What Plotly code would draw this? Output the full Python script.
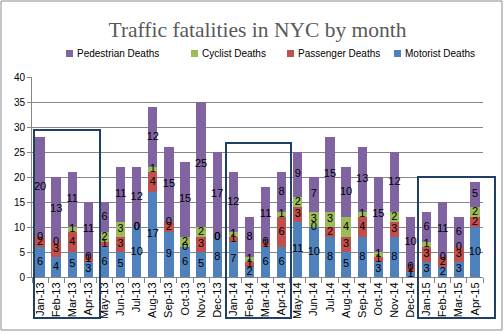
import plotly.graph_objects as go

months = ["Jan-13","Feb-13","Mar-13","Apr-13","May-13","Jun-13","Jul-13","Aug-13","Sep-13","Oct-13","Nov-13","Dec-13",
          "Jan-14","Feb-14","Mar-14","Apr-14","May-14","Jun-14","Jul-14","Aug-14","Sep-14","Oct-14","Nov-14","Dec-14",
          "Jan-15","Feb-15","Mar-15","Apr-15"]
motorist   = [6,4,5,3,6,5,10,17,9,6,5,8, 7,2,6,6,11,10,8,5,8,3,8,1, 3,2,3,10]
passenger  = [2,3,4,1,1,3,0,4,2,0,3,0, 1,1,1,6,3,0,2,3,4,1,3,1, 3,2,3,2]
cyclist    = [0,0,1,0,2,3,0,1,0,2,2,0, 1,1,0,1,2,3,3,4,1,1,2,0, 1,0,0,2]
pedestrian = [20,13,11,11,6,11,12,12,15,15,25,17, 12,8,11,8,9,7,15,10,13,15,12,10, 6,11,6,5]

series = [("Motorist Deaths", motorist, "#4F81BD"),
          ("Passenger Deaths", passenger, "#C0504D"),
          ("Cyclist Deaths", cyclist, "#9BBB59"),
          ("Pedestrian Deaths", pedestrian, "#8064A2")]

fig = go.Figure()
base = [0]*len(months)
label_x, label_y, label_t = [], [], []
for name, vals, col in series:
    fig.add_trace(go.Bar(x=months, y=vals, name=name, marker=dict(color=col, line=dict(width=0)), showlegend=False))
    for i, v in enumerate(vals):
        label_x.append(months[i]); label_y.append(base[i] + v/2); label_t.append(str(v))
    base = [b + v for b, v in zip(base, vals)]

fig.add_trace(go.Scatter(x=label_x, y=label_y, text=label_t, mode="text", showlegend=False,
                         textfont=dict(family="Liberation Sans", size=11, color="#000000"),
                         hoverinfo="skip", cliponaxis=False))

# Plot area in pixels: x 32..483, y 77..277
L, R, T, B = 32, 483, 77, 277
W, H = R - L, B - T
def px(x): return (x - L) / W
def py(y): return (B - y) / H

shapes = [dict(type="rect", xref="paper", yref="paper", x0=px(1), x1=px(502), y0=py(330), y1=py(1),
               line=dict(color="#8C8C8C", width=1), layer="below")]
for (x0, x1, y0) in [(34, 100, 130), (226, 291, 143), (418, 495, 177)]:
    shapes.append(dict(type="rect", xref="paper", yref="paper", x0=px(x0), x1=px(x1), y0=py(318), y1=py(y0),
                       line=dict(color="#1F3F66", width=2)))

# manual legend (Excel order: reversed stack order)
annotations = []
legend_x = [66, 191, 287, 394]
for (name, vals, col), lx in zip(series[::-1], legend_x):
    shapes.append(dict(type="rect", xref="paper", yref="paper", x0=px(lx), x1=px(lx + 7),
                       y0=py(57), y1=py(50), fillcolor=col, line=dict(width=0)))
    annotations.append(dict(text=name, xref="paper", yref="paper", x=px(lx + 9), y=py(53.5),
                            xanchor="left", yanchor="middle", showarrow=False,
                            font=dict(family="Liberation Sans", size=10, color="#000000")))

fig.update_layout(
    width=504, height=334,
    margin=dict(l=L, r=504 - R, t=T, b=334 - B),
    paper_bgcolor="white", plot_bgcolor="white",
    barmode="stack", bargap=0.42,
    title=dict(text="Traffic fatalities in NYC by month", x=0.5, xref="paper", y=1 - 29/334, yanchor="middle",
               font=dict(family="Liberation Serif", size=21.5, color="#595959")),
    showlegend=False,
    shapes=shapes, annotations=annotations,
    xaxis=dict(type="category", tickangle=-90, tickfont=dict(family="Liberation Sans", size=11, color="#000000"),
               showline=True, linecolor="#868686", ticks="outside", ticklen=5, tickcolor="#868686",
               tickson="boundaries", showgrid=False, range=[-0.5, 27.5]),
    yaxis=dict(range=[0, 40], dtick=5, showgrid=True, gridcolor="#868686", gridwidth=1,
               tickfont=dict(family="Liberation Sans", size=10, color="#000000"),
               showline=True, linecolor="#868686", ticks="outside", ticklen=4, tickcolor="#868686", zeroline=False),
)
fig.write_html("out.html")
